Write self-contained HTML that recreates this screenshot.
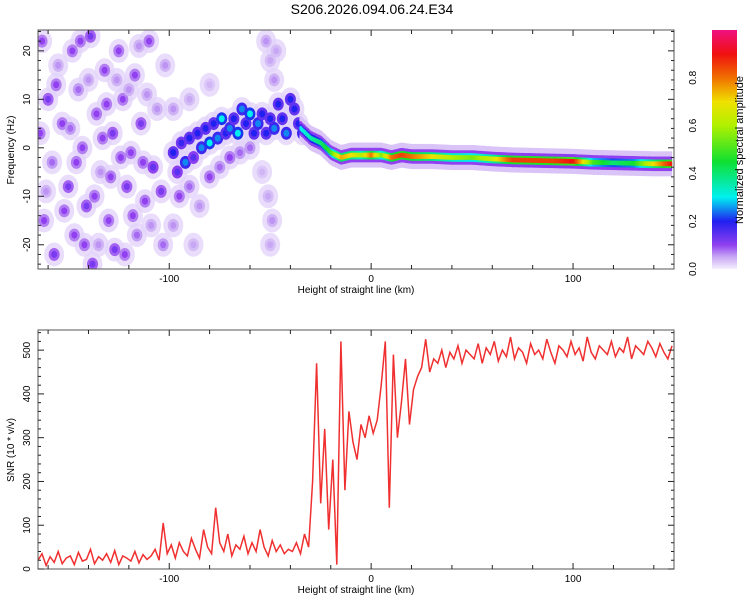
<!DOCTYPE html>
<html><head><meta charset="utf-8"><style>
html,body{margin:0;padding:0;background:#fff;}
svg{display:block;font-family:"Liberation Sans",sans-serif;}
</style></head><body>
<svg id="c" width="750" height="600" viewBox="0 0 750 600">
<defs>
<linearGradient id="cmap" x1="0" y1="1" x2="0" y2="0">
<stop offset="0" stop-color="#f4effc"/><stop offset="0.05" stop-color="#c8a8f4"/><stop offset="0.1" stop-color="#9040f0"/>
<stop offset="0.2" stop-color="#2020f0"/><stop offset="0.3" stop-color="#00f0f0"/><stop offset="0.45" stop-color="#10e030"/>
<stop offset="0.6" stop-color="#b0f000"/><stop offset="0.7" stop-color="#f0e000"/><stop offset="0.8" stop-color="#f07000"/>
<stop offset="0.9" stop-color="#f01010"/><stop offset="1" stop-color="#f01080"/></linearGradient>
<clipPath id="clipTop"><rect x="38" y="30" width="636" height="239"/></clipPath>
<clipPath id="clipBot"><rect x="38" y="330" width="636" height="239"/></clipPath>
</defs>
<text x="372" y="14" font-size="14" text-anchor="middle">S206.2026.094.06.24.E34</text>
<g id="heat" clip-path="url(#clipTop)"></g>
<g id="snr" clip-path="url(#clipBot)"></g>
<g id="axes"></g>
<rect x="712" y="30" width="25" height="239" fill="url(#cmap)"/>
<text transform="translate(743,150) rotate(-90)" font-size="11" text-anchor="middle">Normalized spectral amplitude</text>
<text transform="translate(14,150) rotate(-90)" font-size="10" text-anchor="middle">Frequency (Hz)</text>
<text transform="translate(14,450) rotate(-90)" font-size="10" text-anchor="middle">SNR (10 * v/v)</text>
<text x="356" y="293" font-size="10" text-anchor="middle">Height of straight line (km)</text>
<text x="356" y="593" font-size="10" text-anchor="middle">Height of straight line (km)</text>
</svg>
<script>
const xTicks=[-100,0,100];
const fTicks=[-20,-10,0,10,20];
const snrTicks=[0,100,200,300,400,500];
const cbTicks=[0.0,0.2,0.4,0.6,0.8];
const ridgeH=[-35,-30,-25,-20,-15,-10,-5,0,5,10,15,20,30,40,50,60,70,80,90,100,110,120,130,140,149];
const ridgeF=[4,2,1,-1,-2,-1.5,-1.5,-1.5,-1.5,-2,-1.5,-1.8,-1.8,-2,-2,-2.3,-2.5,-2.6,-2.7,-2.8,-3,-3.1,-3.2,-3.3,-3.3];
const ridgeA=[0.3,0.35,0.4,0.5,0.75,0.7,0.6,0.8,0.55,0.8,0.85,0.8,0.7,0.6,0.55,0.65,0.85,0.85,0.85,0.9,0.5,0.4,0.45,0.7,0.9];
const blobH=[-163,-160,-158,-162,-157,-155,-153,-150,-148,-147,-145,-143,-141,-139,-138,-136,-134,-132,-130,-128,-127,-125,-123,-121,-119,-117,-116,-114,-112,-110,-108,-106,-104,-103,-102,
-164,-161,-156,-152,-149,-146,-144,-142,-140,-137,-135,-133,-131,-129,-126,-124,-122,-120,-118,-115,-113,-111,-109,
-98,-96,-94,-92,-90,-88,-86,-84,-82,-80,-78,-76,-74,-72,-70,-68,-66,-64,-62,-60,-58,-56,-54,-52,-50,-48,-46,-44,-42,-40,-38,-36,-34,
-95,-90,-85,-80,-75,-70,-65,-60,-98,-90,-80,-88,-98,
-52,-50,-48,-51,-49,-50,-54,-47];
const blobF=[22,10,-3,-15,-22,17,5,-8,20,-18,12,0,-12,23,-24,7,-5,16,-15,3,-21,20,10,-8,-1,15,-18,5,-11,22,-4,8,-9,-20,17,
3,-9,13,-13,4,-3,22,-20,14,-10,-20,2,9,-6,14,-2,-22,12,-14,21,-3,11,-16,
-1,-5,1,-3,2,-2,3,0,4,1,5,2,6,3,4,6,3,8,5,7,3,5,7,3,6,4,9,6,3,10,8,5,3,
-10,-8,-12,-6,-4,-2,-1,0,8,10,13,-20,-16,
22,18,14,-10,-15,-20,-5,20];
const blobA=[.1,.12,.08,.1,.12,.06,.1,.12,.1,.1,.08,.1,.12,.12,.12,.1,.06,.1,.1,.12,.12,.1,.1,.12,.1,.1,.08,.12,.1,.1,.14,.06,.12,.08,.06,
.1,.06,.1,.1,.08,.1,.1,.1,.06,.1,.06,.1,.1,.1,.06,.1,.1,.06,.1,.06,.1,.06,.06,
.2,.15,.18,.25,.2,.15,.2,.25,.2,.3,.2,.25,.3,.2,.25,.2,.3,.25,.2,.3,.2,.25,.2,.2,.2,.25,.2,.2,.25,.2,.2,.2,.25,
.1,.08,.06,.1,.08,.1,.08,.08,.06,.05,.04,.05,.06,
.06,.05,.06,.05,.06,.05,.04,.05];
const snrVals=[20,35,8,28,15,40,12,25,30,10,38,18,22,45,12,28,20,35,15,42,10,30,25,18,40,14,33,22,
30,45,20,105,35,55,25,60,40,30,70,45,25,90,50,35,140,60,40,80,30,55,45,75,35,60,40,90,50,30,65,40,55,35,45,
40,60,35,80,50,
200,470,150,320,90,250,
10,520,180,360,290,250,330,300,350,
310,340,420,520,140,490,300,380,480,330,410,440,460,
525,450,480,470,500,460,495,480,510,470,500,490,480,515,470,505,490,520,475,500,485,530,480,505,495,470,515,490,500,480,525,495,470,510,500,485,520,490,505,475,530,495,480,510,500,490,520,485,505,495,530,480,510,500,490,520,505,485,515,495,480,510];
const snrH0=-165, snrStep=2;

const NS='http://www.w3.org/2000/svg';
const X0=38,X1=674,H0=-165,H1=150;
const xs=h=>X0+(h-H0)/(H1-H0)*(X1-X0);
const TY0=30,TY1=269,F0=-25,F1=24.3;
const yf=f=>TY1-(f-F0)/(F1-F0)*(TY1-TY0);
const BY0=330,BY1=569,S0=0,S1=546;
const ys=v=>BY1-(v-S0)/(S1-S0)*(BY1-BY0);
const stops=[[0,[244,239,252]],[0.05,[200,168,244]],[0.1,[144,64,240]],[0.2,[32,32,240]],[0.3,[0,240,240]],[0.45,[16,224,48]],[0.6,[176,240,0]],[0.7,[240,224,0]],[0.8,[240,112,0]],[0.9,[240,16,16]],[1,[240,16,128]]];
function cmap(a){a=Math.max(0,Math.min(1,a));for(let i=1;i<stops.length;i++){if(a<=stops[i][0]){const[p,c0]=stops[i-1],[q,c1]=stops[i];const t=(a-p)/(q-p);return 'rgb('+c0.map((v,k)=>Math.round(v+(c1[k]-v)*t)).join(',')+')';}}return 'rgb(240,16,128)';}
function el(tag,attrs,parent){const e=document.createElementNS(NS,tag);for(const k in attrs)e.setAttribute(k,attrs[k]);parent.appendChild(e);return e;}

const heat=document.getElementById('heat');
const halo=el('g',{},heat);


for(let i=0;i<blobH.length;i++){
  el('ellipse',{cx:xs(blobH[i]),cy:yf(blobF[i]),rx:10,ry:12,fill:'rgb(225,210,250)',opacity:0.75},halo);
}
for(let i=0;i<blobH.length;i++){
  const cx=xs(blobH[i]),cy=yf(blobF[i]),a=blobA[i];
  const g=el('g',{},heat);
  
  
  el('ellipse',{cx:cx,cy:cy,rx:5.5,ry:6.5,fill:cmap(a*0.7)},g);
  el('ellipse',{cx:cx,cy:cy,rx:3,ry:3.5,fill:cmap(a)},g);
}
function interp(arr,h){for(let i=1;i<ridgeH.length;i++){if(h<=ridgeH[i]){const t=(h-ridgeH[i-1])/(ridgeH[i]-ridgeH[i-1]);return arr[i-1]+(arr[i]-arr[i-1])*t;}}return arr[arr.length-1];}
const layers=[[2.6,0.03],[1.5,0.12],[0.9,0.55],[0.5,1]];
for(const [hw,fr] of layers){
  const g=el('g',{},heat);
  
  
  for(let h=ridgeH[0];h<=ridgeH[ridgeH.length-1];h+=0.7){
    const f=interp(ridgeF,h),a=interp(ridgeA,h);
    const c=fr<0.1?0.03:Math.max(0.1,a*fr);
    const y0=yf(f+hw),y1=yf(f-hw);
    el('rect',{x:xs(h)-1,y:y0,width:2.4,height:y1-y0,fill:cmap(c),rx:1},g);
  }
}

const snr=document.getElementById('snr');
let d='';
snrVals.forEach((v,i)=>{d+=(i?'L':'M')+xs(snrH0+i*snrStep).toFixed(1)+' '+ys(v).toFixed(1);});
const p=el('path',{d:d,fill:'none',stroke:'#f03030','stroke-width':1.5,'stroke-linejoin':'miter'},snr);



const ax=document.getElementById('axes');
function frame(y0,y1,name){const r=el('rect',{x:X0,y:y0,width:X1-X0,height:y1-y0,fill:'none',stroke:'#555','stroke-width':1},ax);}
frame(TY0,TY1,'top-plot-frame');frame(BY0,BY1,'bottom-plot-frame');
function tick(x1,y1,x2,y2){el('line',{x1:x1,y1:y1,x2:x2,y2:y2,stroke:'#222','stroke-width':1},ax);}
for(const [y0,y1] of [[TY0,TY1],[BY0,BY1]]){
  for(let h=-160;h<=140;h+=20){const x=xs(h),L=(h%100===0)?6:4;tick(x,y1,x,y1-L);tick(x,y0,x,y0+L);}
  xTicks.forEach(h=>{const t=el('text',{x:xs(h),y:y1+13,'font-size':10,'text-anchor':'middle'},ax);t.textContent=String(h);});
}
for(let f=-24;f<=24;f+=2){const y=yf(f),L=(f%10===0)?6:3;tick(X0,y,X0+L,y);tick(X1,y,X1-L,y);}
fTicks.forEach(f=>{const t=el('text',{transform:'translate(30,'+yf(f)+') rotate(-90)','font-size':10,'text-anchor':'middle'},ax);t.textContent=String(f);});
for(let v=0;v<=540;v+=20){const y=ys(v),L=(v%100===0)?6:3;tick(X0,y,X0+L,y);tick(X1,y,X1-L,y);}
snrTicks.forEach(v=>{const t=el('text',{transform:'translate(30,'+ys(v)+') rotate(-90)','font-size':10,'text-anchor':'middle'},ax);t.textContent=String(v);});
cbTicks.forEach(v=>{const y=269-v*239;const t=el('text',{transform:'translate(696,'+y+') rotate(-90)','font-size':10,'text-anchor':'middle'},ax);t.textContent=v.toFixed(1);});
</script>
</body></html>
